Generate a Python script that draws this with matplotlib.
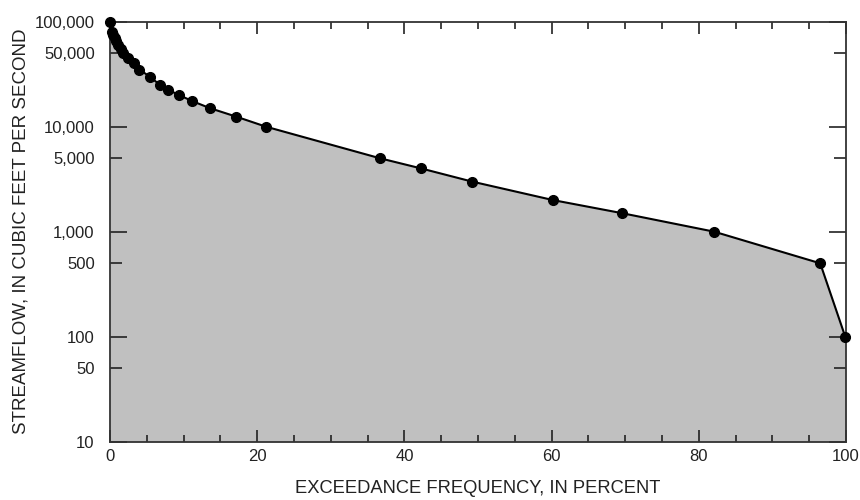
import matplotlib
matplotlib.use("Agg")
import matplotlib.pyplot as plt
from matplotlib.ticker import FixedLocator, FuncFormatter

plt.rcParams["font.family"] = ["Liberation Sans", "DejaVu Sans"]

# flow-duration data
exceedance_pct = [0, 0.27, 0.45, 0.64, 0.83, 1.07, 1.44, 1.8, 2.45, 3.2, 4.0,
                  5.4, 6.8, 7.9, 9.4, 11.2, 13.6, 17.1, 21.2, 36.7, 42.3,
                  49.2, 60.2, 69.6, 82.1, 96.5, 99.9]
streamflow_cfs = [100000, 80000, 75000, 70000, 65000, 60000, 55000, 50000,
                  45000, 40000, 35000, 30000, 25000, 22500, 20000, 17500,
                  15000, 12500, 10000, 5000, 4000, 3000, 2000, 1500, 1000,
                  500, 100]

y_major = [10, 100, 1000, 10000, 100000]
y_minor = [50, 500, 5000, 50000]

fig = plt.figure(figsize=(8.6, 5.0), dpi=100)
ax = fig.add_axes([0.1279, 0.1166, 0.8558, 0.84])

ax.fill_between(exceedance_pct + [100], streamflow_cfs + [10], 10,
                color="#c0c0c0", linewidth=0)
ax.plot(exceedance_pct, streamflow_cfs, color="black", linewidth=1.5,
        marker="o", markersize=7, clip_on=False, zorder=5)

ax.set_yscale("log")
ax.set_xlim(0, 100)
ax.set_ylim(10, 100000)

ax.xaxis.set_major_locator(FixedLocator(range(0, 101, 20)))
ax.xaxis.set_minor_locator(FixedLocator(range(0, 101, 5)))
ax.yaxis.set_major_locator(FixedLocator(y_major))
ax.yaxis.set_minor_locator(FixedLocator(y_minor))
fmt = FuncFormatter(lambda v, pos: f"{int(round(v)):,}")
ax.yaxis.set_major_formatter(fmt)
ax.yaxis.set_minor_formatter(fmt)

ax.tick_params(which="both", direction="in", top=True, right=True,
               labelsize=12, colors="#222222", width=1.2)
ax.tick_params(axis="x", which="both", pad=5)
ax.tick_params(axis="y", which="both", pad=11)
ax.tick_params(axis="x", which="major", length=8.6)
ax.tick_params(axis="x", which="minor", length=5)
ax.tick_params(axis="y", which="major", length=12)
ax.tick_params(axis="y", which="minor", length=8.6)

for spine in ax.spines.values():
    spine.set_color("#333333")
    spine.set_linewidth(1.3)

ax.set_xlabel("EXCEEDANCE FREQUENCY, IN PERCENT", fontsize=13.2,
              color="#222222", labelpad=12)
ax.set_ylabel("STREAMFLOW, IN CUBIC FEET PER SECOND", fontsize=13.5,
              color="#222222", labelpad=4)

fig.savefig("out.png", dpi=100)
